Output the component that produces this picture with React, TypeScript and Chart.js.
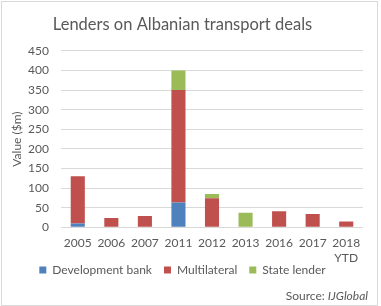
import React, { useEffect, useRef } from "react";
import { Chart, registerables } from "chart.js";

Chart.register(...registerables);

const categories: (string | string[])[] = ["2005", "2006", "2007", "2011", "2012", "2013", "2016", "2017", ["2018", "YTD"]];
const developmentBank = [10, 0, 0, 63, 0, 0, 0, 0, 0];
const multilateral = [120, 24, 29, 287, 74, 0, 41, 34, 15];
const stateLender = [0, 0, 0, 50, 11, 37, 0, 0, 0];
const yTicks = [0, 50, 100, 150, 200, 250, 300, 350, 400, 450];

const FONT = "Lato";
const TEXT = "#595959";

const framePlugin = {
  id: "frameAndSource",
  afterDraw(chart: any) {
    const ctx = chart.ctx;
    ctx.save();
    ctx.strokeStyle = "#d9d9d9";
    ctx.lineWidth = 1;
    ctx.strokeRect(1.5, 1.5, 376, 304);
    ctx.fillStyle = TEXT;
    ctx.textBaseline = "middle";
    ctx.textAlign = "left";
    ctx.font = `italic 12px ${FONT}`;
    const italic = "IJGlobal";
    const wI = ctx.measureText(italic).width;
    ctx.font = `12px ${FONT}`;
    const normal = "Source: ";
    const wN = ctx.measureText(normal).width;
    const right = 368;
    ctx.fillText(normal, right - wI - wN, 296);
    ctx.font = `italic 12px ${FONT}`;
    ctx.fillText(italic, right - wI, 296);
    ctx.restore();
  },
};

export default function App() {
  const ref = useRef<HTMLCanvasElement | null>(null);
  useEffect(() => {
    if (!ref.current) return;
    const chart = new Chart(ref.current, {
      type: "bar",
      data: {
        labels: categories,
        datasets: [
          { label: "Development bank", data: developmentBank, backgroundColor: "#4F81BD" },
          { label: "Multilateral", data: multilateral, backgroundColor: "#C0504D" },
          { label: "State lender", data: stateLender, backgroundColor: "#9BBB59" },
        ],
      },
      options: {
        responsive: false,
        animation: false,
        layout: { padding: { top: 0, left: 2, right: 18, bottom: 20 } },
        datasets: { bar: { barPercentage: 0.42, categoryPercentage: 1 } },
        plugins: {
          title: {
            display: true,
            text: "Lenders on Albanian transport deals",
            color: TEXT,
            font: { family: FONT, size: 16.5, weight: "normal" },
            padding: { top: 15, bottom: 16 },
          },
          legend: {
            position: "bottom",
            labels: {
              color: TEXT,
              font: { family: FONT, size: 12 },
              boxWidth: 7,
              boxHeight: 7,
              padding: 12,
            },
          },
          tooltip: { enabled: false },
        },
        scales: {
          x: {
            stacked: true,
            grid: { display: false, drawTicks: false },
            border: { display: false },
            ticks: { color: TEXT, font: { family: FONT, size: 12 }, padding: 9, maxRotation: 0, autoSkip: false },
            afterFit(axis: any) {
              axis.height = 24.7;
              axis._computeLabelArea = () => null;
            },
          },
          y: {
            stacked: true,
            min: 0,
            max: 450,
            afterBuildTicks(axis: any) { axis.ticks = yTicks.map((v) => ({ value: v })); },
            grid: { color: "#d9d9d9", drawTicks: false },
            border: { display: false },
            ticks: { color: TEXT, font: { family: FONT, size: 12 }, padding: 12 },
            title: {
              display: true,
              text: "Value ($m)",
              color: TEXT,
              font: { family: FONT, size: 12 },
              padding: { top: 7.5, bottom: 0 },
            },
            afterFit(axis: any) { axis.width = 59; },
          },
        },
      },
      plugins: [framePlugin],
    });
    return () => chart.destroy();
  }, []);
  return (
    <div style={{ position: "absolute", left: 0, top: 0, width: 381, height: 306, background: "#fff" }}>
      <canvas ref={ref} width={381} height={306} style={{ width: 381, height: 306, display: "block" }} />
    </div>
  );
}
